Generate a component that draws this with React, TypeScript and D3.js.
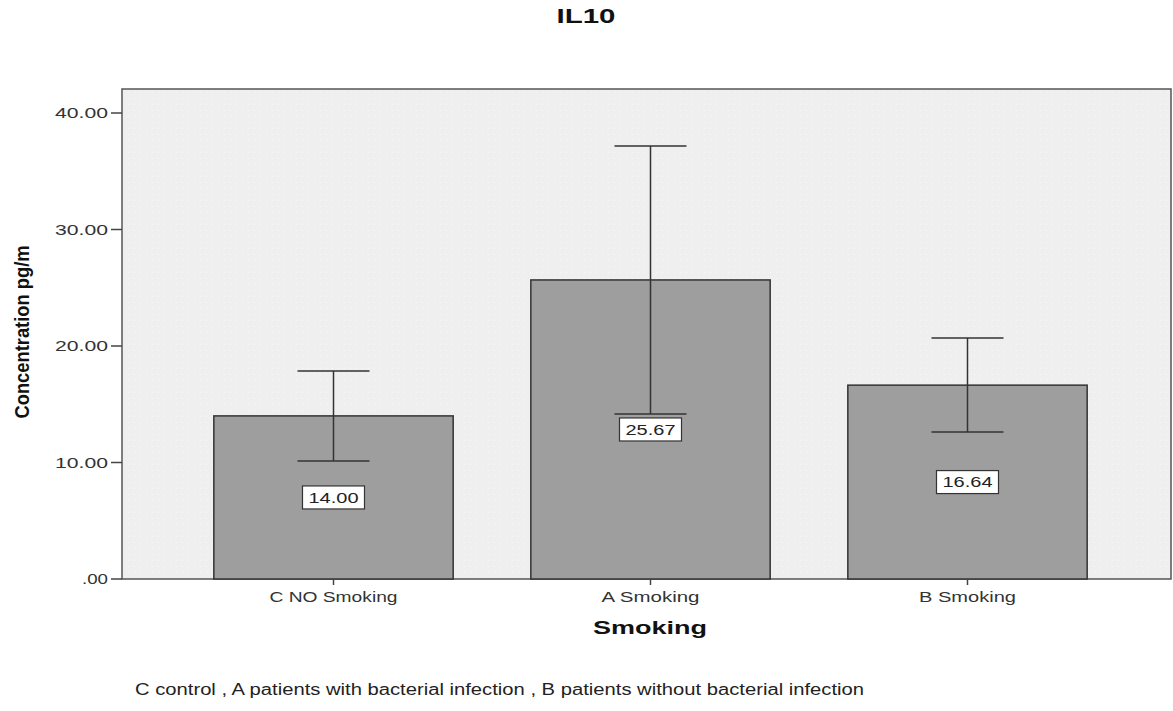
import React from "react";
import * as d3 from "d3";

const categories = ["C NO Smoking", "A Smoking", "B Smoking"];
const categoryLabelWidths = [128, 98, 97];
const means = [14.0, 25.67, 16.64];
const errLow = [10.13, 14.16, 12.62];
const errHigh = [17.85, 37.17, 20.69];
const yTicks = [0, 10, 20, 30, 40];
const tickLabels = [".00", "10.00", "20.00", "30.00", "40.00"];

const W = 1173;
const H = 711;
const plotLeft = 122;
const plotRight = 1171;
const plotTop = 89;
const plotBottom = 579;

export default function App() {
  const y = d3.scaleLinear().domain([0, 40]).range([plotBottom, 113]);
  const x = d3.scaleBand<string>().domain(categories).range([175, 1126]).padding(0);
  const barW = x.bandwidth() * 0.755;
  const capW = 72;
  const font = "Arial, 'Liberation Sans', sans-serif";
  const adj = "spacingAndGlyphs";

  return (
    <svg width={W} height={H} style={{ position: "absolute", left: 0, top: 0, background: "#fff" }}>
      <defs>
        <pattern id="dots" width="6" height="6" patternUnits="userSpaceOnUse">
          <rect width="6" height="6" fill="#efefef" />
          <rect x="2" y="2" width="1" height="1" fill="#f8f8f8" />
        </pattern>
      </defs>
      <text x={586} y={23} textAnchor="middle" fontFamily={font} fontWeight="bold" fontSize={20} fill="#111" textLength={59} lengthAdjust={adj}>IL10</text>
      <rect x={plotLeft} y={plotTop} width={plotRight - plotLeft} height={plotBottom - plotTop} fill="url(#dots)" stroke="#555" strokeWidth={1.5} />
      {yTicks.map((t, i) => (
        <g key={t}>
          <line x1={plotLeft - 11} x2={plotLeft} y1={y(t)} y2={y(t)} stroke="#444" strokeWidth={1.5} />
          <text x={plotLeft - 14} y={y(t)} dy="0.36em" textAnchor="end" fontFamily={font} fontSize={15} fill="#333" textLength={t === 0 ? 26 : 53} lengthAdjust={adj}>{tickLabels[i]}</text>
        </g>
      ))}
      <text transform={`translate(29,${332}) rotate(-90) scale(1,1.15)`} textAnchor="middle" fontFamily={font} fontWeight="bold" fontSize={18} fill="#111" textLength={173} lengthAdjust={adj}>Concentration pg/m</text>
      {categories.map((c, i) => {
        const cx = (x(c) as number) + x.bandwidth() / 2;
        const midY = (y(means[i]) + y(0)) / 2;
        const label = means[i].toFixed(2);
        return (
          <g key={c}>
            <rect x={cx - barW / 2} y={y(means[i])} width={barW} height={y(0) - y(means[i])} fill="#9e9e9e" stroke="#333" strokeWidth={1.5} />
            <line x1={cx} x2={cx} y1={y(errHigh[i])} y2={y(errLow[i])} stroke="#333" strokeWidth={1.5} />
            <line x1={cx - capW / 2} x2={cx + capW / 2} y1={y(errHigh[i])} y2={y(errHigh[i])} stroke="#333" strokeWidth={1.5} />
            <line x1={cx - capW / 2} x2={cx + capW / 2} y1={y(errLow[i])} y2={y(errLow[i])} stroke="#333" strokeWidth={1.5} />
            <rect x={cx - 31} y={midY - 11.5} width={62} height={23} fill="#fff" stroke="#333" strokeWidth={1.2} />
            <text x={cx} y={midY} dy="0.36em" textAnchor="middle" fontFamily={font} fontSize={15} fill="#222" textLength={50} lengthAdjust={adj}>{label}</text>
            <line x1={cx} x2={cx} y1={plotBottom} y2={plotBottom + 6} stroke="#444" strokeWidth={1.5} />
            <text x={cx} y={602} textAnchor="middle" fontFamily={font} fontSize={14} fill="#333" textLength={categoryLabelWidths[i]} lengthAdjust={adj}>{c}</text>
          </g>
        );
      })}
      <text x={650} y={634} textAnchor="middle" fontFamily={font} fontWeight="bold" fontSize={19} fill="#111" textLength={114} lengthAdjust={adj}>Smoking</text>
      <text x={135} y={695} fontFamily={font} fontSize={16} fill="#222" textLength={729} lengthAdjust={adj}>C control , A patients with bacterial infection , B patients without bacterial infection</text>
    </svg>
  );
}
